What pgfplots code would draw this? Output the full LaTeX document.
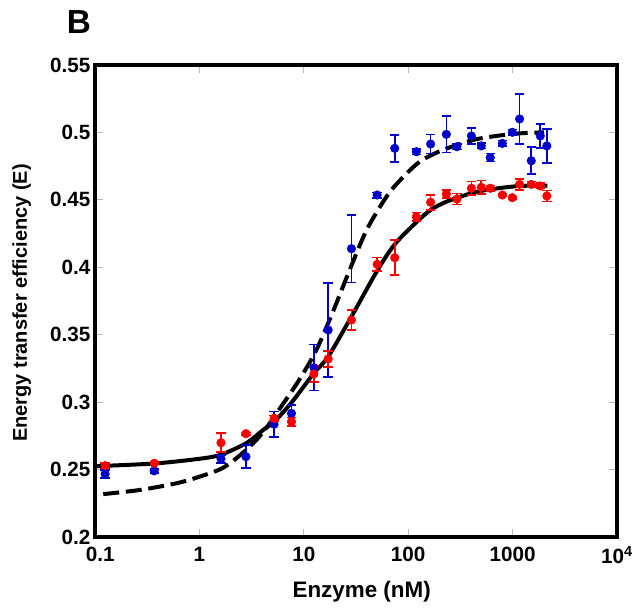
\documentclass[border=0pt]{standalone}
\usepackage{fontspec}
\setmainfont{Liberation Sans}
\usepackage{pgfplots}
\pgfplotsset{compat=1.18}
\definecolor{ptblue}{RGB}{0,0,205}
\definecolor{ptred}{RGB}{250,0,0}
\begin{document}
\begin{tikzpicture}
\useasboundingbox (-71.25pt,-52.5pt) rectangle (410.25pt,402.75pt);
\begin{axis}[
    at={(0,0)}, anchor=south west,
    scale only axis, width=391.5pt, height=354pt,
    xmode=log, log basis x=10,
    xmin=0.1, xmax=10000, ymin=0.2, ymax=0.55,
    xtick={0.1,1,10,100,1000,10000},
    xticklabels={\hspace{8pt}0.1,1,10,100,1000,10\textsuperscript{4}},
    ytick={0.2,0.25,0.3,0.35,0.4,0.45,0.5,0.55},
    yticklabels={0.2,0.25,0.3,0.35,0.4,0.45,0.5,0.55},
    xminorticks=false,
    tick align=inside,
    major tick length=6pt,
    tick style={gray!55, line width=0.7pt},
    axis line style={line width=2.6pt},
    ticklabel style={font=\fontsize{15.5}{18}\selectfont\bfseries},
    xticklabel style={yshift=-4pt},
    clip=false,
]
% fitted curves
\addplot[black, line width=3pt, smooth] coordinates {
(0.1,0.2525) (0.37,0.2545) (1.0,0.258) (1.6,0.261) (2.8,0.2695) (4.1,0.2795)
(5.2,0.2855) (7.6,0.2995) (12.5,0.3215) (17.1,0.3337) (28.6,0.3634) (50.5,0.3975)
(74.3,0.417) (120,0.4335) (164,0.4425) (232,0.4486) (403,0.4549) (611,0.4578)
(1170,0.4603) (2150,0.4605)};
\addplot[black, line width=3pt, smooth, dash pattern=on 12pt off 5pt] coordinates {
(0.12,0.2318) (0.27,0.2349) (0.6,0.2398) (1.0,0.2447) (1.7,0.2515) (2.8,0.2645)
(4.1,0.278) (6.3,0.2985) (9.2,0.3175) (13.2,0.3387) (19,0.367) (27.5,0.398)
(40,0.4277) (62,0.4524) (84,0.4647) (129,0.4783) (215,0.487) (420,0.4944)
(700,0.4974) (1170,0.4993) (2000,0.5001)};
% blue data
\addplot[ptblue, only marks, mark=*, mark size=3.2pt,
    error bars/.cd, y dir=both, y explicit,
    error bar style={line width=1.2pt, ptblue},
    error mark options={rotate=90, mark size=3.5pt, line width=1.2pt, ptblue}]
coordinates {
(0.125,0.2467) +- (0,0.003)
(0.369,0.249) +- (0,0.0015)
(1.61,0.258) +- (0,0.003)
(2.79,0.2596) +- (0,0.0085)
(5.2,0.2836) +- (0,0.0095)
(7.62,0.2917) +- (0,0.006)
(12.5,0.3256) +- (0,0.017)
(17.1,0.3535) +- (0,0.035)
(28.6,0.4138) +- (0,0.025)
(50.4,0.4536) +- (0,0.002)
(74.3,0.4882) +- (0,0.01)
(119.7,0.4857) +- (0,0.002)
(164,0.4914) +- (0,0.007)
(232,0.4986) +- (0,0.0136)
(293,0.4894) +- (0,0.002)
(403,0.4974) +- (0,0.006)
(501,0.49) +- (0,0.002)
(611,0.4813) +- (0,0.003)
(797,0.4919) +- (0,0.002)
(993,0.5001) +- (0,0.002)
(1167,0.51) +- (0,0.0187)
(1510,0.479) +- (0,0.01)
(1841,0.4974) +- (0,0.009)
(2128,0.49) +- (0,0.0126)
};
% red data
\addplot[ptred, only marks, mark=*, mark size=3.2pt,
    error bars/.cd, y dir=both, y explicit,
    error bar style={line width=1.2pt, ptred},
    error mark options={rotate=90, mark size=3.5pt, line width=1.2pt, ptred}]
coordinates {
(0.125,0.2529) +- (0,0.002)
(0.369,0.2547) +- (0,0.001)
(1.61,0.2699) +- (0,0.007)
(2.79,0.2766) +- (0,0.001)
(5.2,0.288) +- (0,0.002)
(7.62,0.2855) +- (0,0.003)
(12.5,0.3209) +- (0,0.006)
(17.1,0.332) +- (0,0.006)
(28.6,0.3609) +- (0,0.0075)
(50.4,0.4022) +- (0,0.005)
(74.3,0.4071) +- (0,0.013)
(119.7,0.4375) +- (0,0.003)
(164,0.4482) +- (0,0.0055)
(232,0.4543) +- (0,0.003)
(293,0.4506) +- (0,0.004)
(403,0.4586) +- (0,0.005)
(501,0.4593) +- (0,0.005)
(611,0.4586) +- (0,0.002)
(797,0.4536) +- (0,0.001)
(993,0.4516) +- (0,0.001)
(1167,0.4615) +- (0,0.004)
(1510,0.4615) +- (0,0.002)
(1841,0.4603) +- (0,0.002)
(2128,0.4529) +- (0,0.004)
};
\end{axis}
\node[rotate=90, font=\fontsize{15}{18}\selectfont\bfseries] at (-55pt,175.5pt) {Energy transfer efficiency (E)};
\node[font=\fontsize{16.8}{20}\selectfont\bfseries] at (200pt,-41pt) {Enzyme (nM)};
\node[font=\fontsize{25}{30}\selectfont\bfseries] at (-12pt,386pt) {B};
\end{tikzpicture}
\end{document}
